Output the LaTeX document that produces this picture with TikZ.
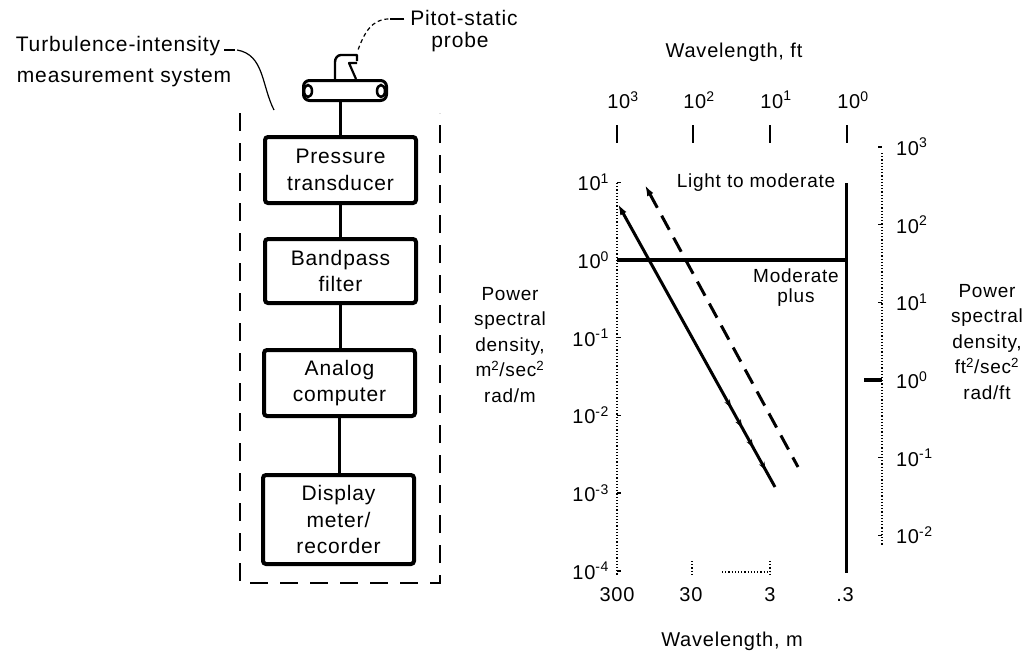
\documentclass[tikz,border=0pt]{standalone}
\usepackage{fontspec}
\setmainfont{Liberation Sans}[LetterSpace=4]
\usetikzlibrary{arrows.meta,decorations.markings}
\begin{document}
\begin{tikzpicture}[x=1pt,y=-1pt,
  every node/.style={inner sep=0pt, outer sep=0pt},
  bigtxt/.style={font=\fontsize{21}{30}\selectfont},
  boxtxt/.style={font=\fontsize{21}{26.5}\selectfont},
  charttxt/.style={font=\fontsize{19}{25.5}\selectfont},
  ticktxt/.style={font=\fontsize{20}{22}\selectfont},
  stagebox/.style={draw, line width=4pt, rounded corners=3pt, minimum width=151pt, align=center, boxtxt},
  wire/.style={line width=2.5pt},
  leader/.style={line width=1.2pt},
  encl/.style={line width=1.3pt, dash pattern=on 18pt off 12pt},
  axisdot/.style={line width=1.2pt, dotted},
  heavy/.style={line width=3pt}
]
\useasboundingbox (0,0) rectangle (1034,659);

% ---------- left: measurement system ----------
\node[bigtxt] (tl1) at (118,46) {Turbulence-intensity};
\node[bigtxt] (tl2) at (124,78) {measurement system};
\node[bigtxt] (pit1) at (464,18) {Pitot-static};
\node[bigtxt] (pit2) at (460,42) {probe};

\coordinate (tlend) at (274,110);
\coordinate (pitend) at (358,50);
\draw[leader] ([xshift=4pt,yshift=-4pt]tl1.east) -- ++(11,0);
\draw[leader] ([xshift=17pt,yshift=-4pt]tl1.east) to[out=-10,in=117] (tlend);
\draw[leader] ([xshift=-6pt,yshift=-1pt]pit1.west) -- ++(-14,0);
\draw[leader, dash pattern=on 4pt off 3pt] ([xshift=-22pt,yshift=-1pt]pit1.west) to[out=180,in=70] (pitend);

% probe
\node[draw, line width=3pt, rounded corners=6pt, minimum width=83pt, minimum height=20pt] (probe) at (345,90.5) {};
\draw[line width=2.5pt] (308,91) ellipse (4pt and 6pt);
\draw[line width=2.5pt] (381,91) ellipse (4pt and 6pt);
\draw[line width=2.4pt, line join=round] (335,80) -- (335,62) to[out=90,in=180] (341,55) -- (357,55) -- (357,61);
\draw[line width=2.2pt, line join=round] (357,63) -- (349,63) -- (356,79);

% stages
\node[stagebox, minimum height=66pt] (b1) at (340.5,170) {Pressure\\transducer};
\node[stagebox, minimum height=64pt] (b2) at (340.5,271) {Bandpass\\filter};
\node[stagebox, minimum height=66pt] (b3) at (339.5,383) {Analog\\computer};
\node[stagebox, minimum height=89pt] (b4) at (338.5,519.5) {Display\\meter/\\recorder};

\draw[wire] (b1.north) -- (b1.north |- probe.south);
\draw[wire] (b1.south) -- (b2.north);
\draw[wire] (b2.south) -- (b2.south |- b3.north);
\draw[wire] (b3.south) -- (b3.south |- b4.north);

% enclosure
\coordinate (e1) at (240,113);
\coordinate (e2) at (240,583);
\coordinate (e3) at (440,583);
\coordinate (e4) at (440,113);
\draw[encl] (e1) -- (e2) -- (e3) -- (e4);

% ---------- right: chart ----------
\node[font=\fontsize{20}{24}\selectfont] (wft) at (734,52) {Wavelength, ft};
\node[font=\fontsize{20}{24}\selectfont] (wm) at (732,641) {Wavelength, m};

% top axis ticks and labels
\foreach \x/\e/\n in {617/3/ta, 693/2/tb, 770/1/tc, 847/0/td}{
  \draw[line width=1.8pt] (\x,125) -- (\x,143);
  \node[ticktxt] (\n) at (\x+6,100) {10\textsuperscript{\e}};
}
% bottom labels
\node[ticktxt] (ba) at (617,595) {300};
\node[ticktxt] (bb) at (691,595) {30};
\node[ticktxt] (bc) at (770,595) {3};
\node[ticktxt] (bd) at (845,595) {.3};
\draw[axisdot] (722,572) -- (770,572);
\draw[axisdot] (692,561) -- (692,574);
\draw[axisdot] (770,561) -- (770,574);

% left axis
\coordinate (ltop) at (617,183);
\coordinate (lbot) at (617,575);
\draw[axisdot] (ltop) -- (lbot);
\foreach \y/\e/\n in {182.3/1/la, 260/0/lb, 337.7/-1/lc, 415.4/-2/ld, 493.1/-3/le, 570.8/-4/lf}{
  \draw[line width=1.5pt] (617,\y) -- (621,\y);
  \node[ticktxt, anchor=east] (\n) at (609,\y) {10\textsuperscript{\e}};
}

% right solid boundary and 10^0 line
\coordinate (rtop) at (846,183);
\coordinate (rbot) at (846,573);
\draw[heavy] (rtop) -- (rbot);
\coordinate (h0) at (617,260);
\draw[line width=3.5pt] (h0) -- (h0 -| rtop);

% right (ft) axis
\coordinate (rrtop) at (882,153);
\coordinate (rrbot) at (882,545);
\draw[axisdot] (rrtop) -- (rrbot);
\foreach \y/\e/\n in {146.9/3/ra, 224.6/2/rb, 302.3/1/rc, 380/0/rd, 457.7/-1/re, 535.4/-2/rf}{
  \draw[line width=1.5pt] (878,\y) -- (882,\y);
  \node[ticktxt, anchor=west] (\n) at (896,\y) {10\textsuperscript{\e}};
}
\draw[line width=3.5pt] (864,380) -- (882,380);

% spectra
\coordinate (s1) at (618,204);
\coordinate (s2) at (775,487);
\draw[heavy, {Latex[length=11pt,width=7pt]}-, postaction={decorate},
  decoration={markings,
    mark=at position 0.72 with {\arrow{Stealth[length=8pt,width=6pt]}},
    mark=at position 0.79 with {\arrow{Stealth[length=8pt,width=6pt]}},
    mark=at position 0.86 with {\arrow{Stealth[length=8pt,width=6pt]}},
    mark=at position 0.94 with {\arrow{Stealth[length=8pt,width=6pt]}}}] (s1) -- (s2);
\coordinate (d1) at (645,185);
\coordinate (d2) at (798,467);
\draw[heavy, dash pattern=on 16pt off 9pt, {Latex[length=11pt,width=7pt]}-] (d1) -- (d2);

\node[charttxt] (lm) at (756,183) {Light to moderate};
\node[charttxt, align=center, font=\fontsize{19}{20}\selectfont] (mp) at (796,288) {Moderate\\plus};

% PSD axis titles
\node[charttxt, align=center] (psdl) at (510,345) {Power\\spectral\\density,\\m\textsuperscript{2}/sec\textsuperscript{2}\\rad/m};
\node[charttxt, align=center] (psdr) at (987,342) {Power\\spectral\\density,\\ft\textsuperscript{2}/sec\textsuperscript{2}\\rad/ft};
\end{tikzpicture}
\end{document}
